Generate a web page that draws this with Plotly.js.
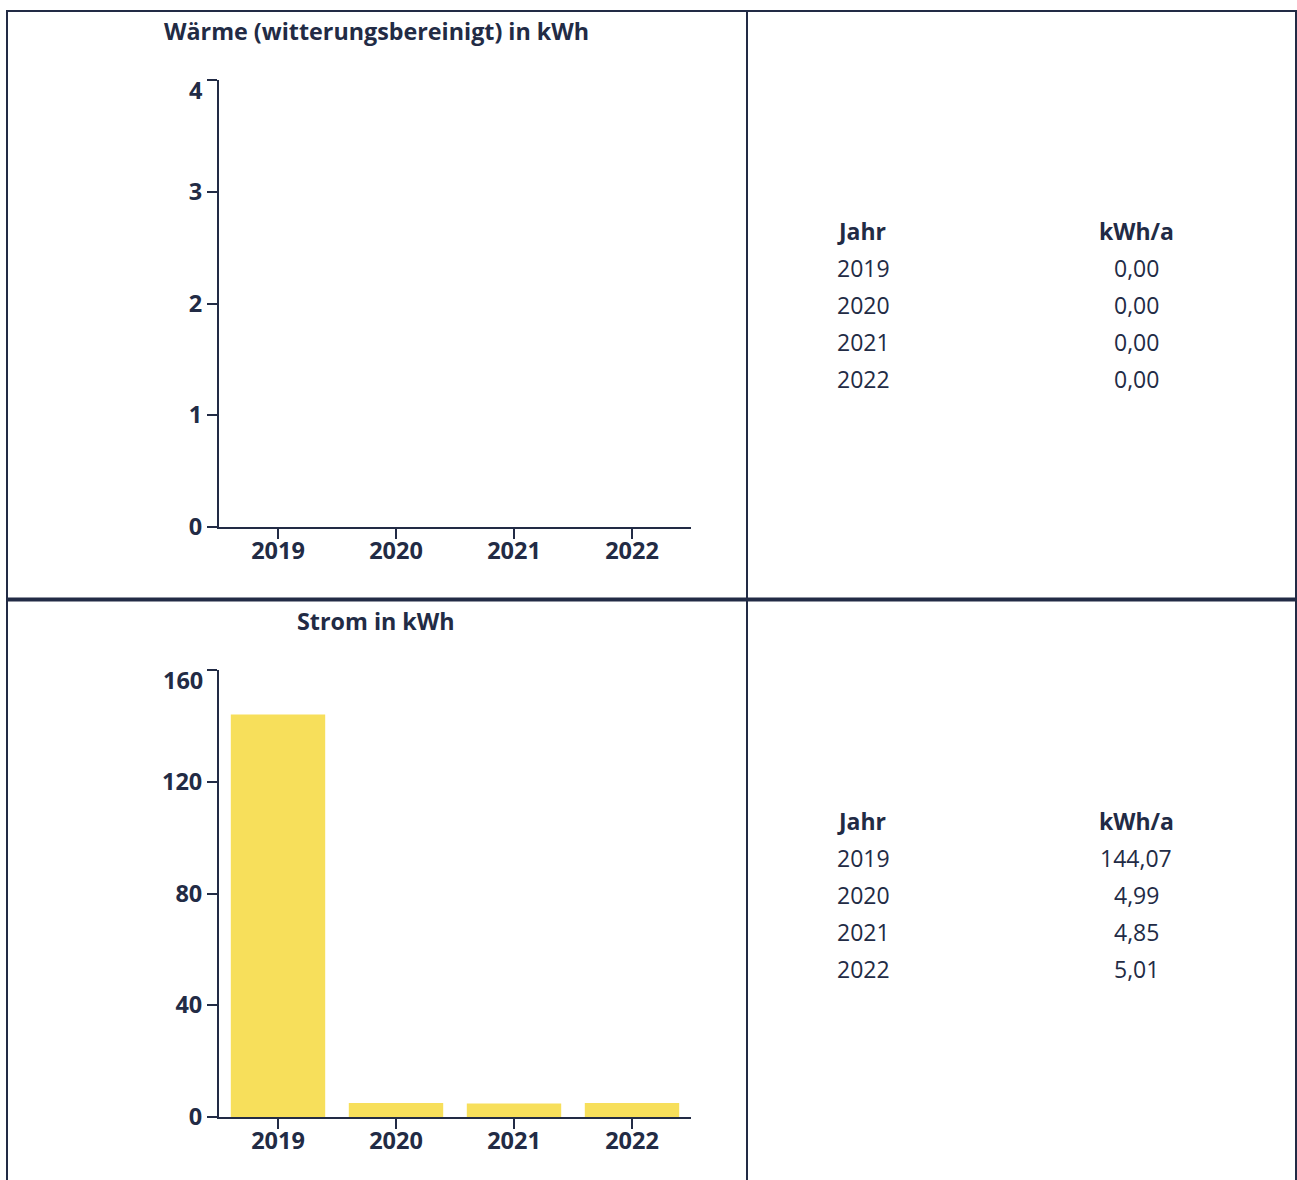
<!DOCTYPE html>
<html>
<head>
<meta charset="utf-8">
<script src="https://cdn.plot.ly/plotly-3.0.1.min.js"></script>
<style>
  html, body { margin: 0; padding: 0; background: #ffffff; }
  #chart { width: 1297px; height: 1180px; }
</style>
</head>
<body>
<div id="chart"></div>
<script>
// ---- data ----
const years = ['2019', '2020', '2021', '2022'];
const waermeValues = [0, 0, 0, 0];
const stromValues = [144.07, 4.99, 4.85, 5.01];
const waermeTicks = [0, 1, 2, 3, 4];
const stromTicks = [0, 40, 80, 120, 160];
const waermeTitle = 'Wärme (witterungsbereinigt) in kWh';
const stromTitle = 'Strom in kWh';
const tableHeaders = ['Jahr', 'kWh/a'];

// ---- layout helpers ----
const W = 1297, H = 1180;
const NAVY = '#222b45';
const YELLOW = '#f7df5b';
const FONT = 'Open Sans, Noto Sans, sans-serif';
const TXT = 23;
const TITLE = 23.3;
const TICK = 23.5;
const px = x => x / W;
const py = y => 1 - y / H;
const fmt = v => v.toFixed(2).replace('.', ',');

const data = [
  { type: 'bar', x: years, y: waermeValues, xaxis: 'x', yaxis: 'y',
    marker: { color: YELLOW }, hoverinfo: 'skip' },
  { type: 'bar', x: years, y: stromValues, xaxis: 'x2', yaxis: 'y2',
    marker: { color: YELLOW }, hoverinfo: 'skip' }
];

function xAxis(anchor) {
  return {
    domain: [px(219), px(691)], anchor: anchor,
    type: 'category', range: [-0.5, 3.5],
    showline: true, linecolor: NAVY, linewidth: 2,
    ticks: 'outside', ticklen: 10, tickwidth: 2, tickcolor: NAVY,
    ticklabelstandoff: -8,
    showgrid: false, zeroline: false, fixedrange: true,
    tickfont: { family: FONT, size: TICK, color: NAVY, weight: 700 }
  };
}
function yAxis(anchor, top, bottom, ticks) {
  return {
    domain: [py(bottom), py(top)], anchor: anchor,
    range: [ticks[0], ticks[ticks.length - 1]],
    tickmode: 'array', tickvals: ticks,
    ticktext: ticks.map((t, i) => i === ticks.length - 1 ? '' : String(t)),
    showline: true, linecolor: NAVY, linewidth: 2,
    ticks: 'outside', ticklen: 10, tickwidth: 2, tickcolor: NAVY,
    showgrid: false, zeroline: false, fixedrange: true,
    tickfont: { family: FONT, size: TICK, color: NAVY, weight: 700 }
  };
}

const annotations = [];
const ann = (x, y, text, anchor, weight, size, extra) => Object.assign({
  xref: 'paper', yref: 'paper', x: x, y: y, text: text, showarrow: false,
  xanchor: anchor, yanchor: 'middle',
  font: { family: FONT, size: size, color: NAVY, weight: weight }
}, extra || {});

// chart titles
annotations.push(ann(px(376), py(31.5), waermeTitle, 'center', 700, TITLE));
annotations.push(ann(px(376), py(620.5), stromTitle, 'center', 700, TITLE));
// top tick labels (drawn slightly below their tick, as in the reference)
annotations.push(ann(px(205), waermeTicks[waermeTicks.length - 1],
  String(waermeTicks[waermeTicks.length - 1]), 'right', 700, TICK, { yref: 'y', yshift: -10 }));
annotations.push(ann(px(205), stromTicks[stromTicks.length - 1],
  String(stromTicks[stromTicks.length - 1]), 'right', 700, TICK, { yref: 'y2', yshift: -10 }));

// tables
function addTable(headerY, values) {
  annotations.push(ann(px(835), py(headerY), tableHeaders[0], 'left', 700, TXT));
  annotations.push(ann(px(1136), py(headerY), tableHeaders[1], 'center', 700, TXT));
  years.forEach((yr, i) => {
    const yy = headerY + 37 * (i + 1);
    annotations.push(ann(px(835), py(yy), yr, 'left', 400, TXT));
    annotations.push(ann(px(1136), py(yy), fmt(values[i]), 'center', 400, TXT));
  });
}
addTable(231, waermeValues);
addTable(821, stromValues);

// cell borders
const line = (x0, y0, x1, y1, w) => ({ type: 'line', xref: 'paper', yref: 'paper',
  x0: px(x0), y0: py(y0), x1: px(x1), y1: py(y1), line: { color: NAVY, width: w }, layer: 'above' });
const shapes = [
  line(6, 11, 1297, 11, 2),
  line(7, 10, 7, 1180, 2),
  line(747, 10, 747, 1180, 2),
  line(1296, 10, 1296, 1180, 2),
  line(6, 599.5, 1297, 599.5, 4)
];

const layout = {
  width: W, height: H,
  margin: { l: 0, r: 0, t: 0, b: 0, pad: 0 },
  paper_bgcolor: '#ffffff', plot_bgcolor: '#ffffff',
  showlegend: false, bargap: 0.2,
  font: { family: FONT, color: NAVY },
  xaxis: xAxis('y'), yaxis: yAxis('x', 80, 527, waermeTicks),
  xaxis2: xAxis('y2'), yaxis2: yAxis('x2', 670, 1117, stromTicks),
  annotations: annotations, shapes: shapes
};

Plotly.newPlot('chart', data, layout, { staticPlot: true, displayModeBar: false });
</script>
</body>
</html>
